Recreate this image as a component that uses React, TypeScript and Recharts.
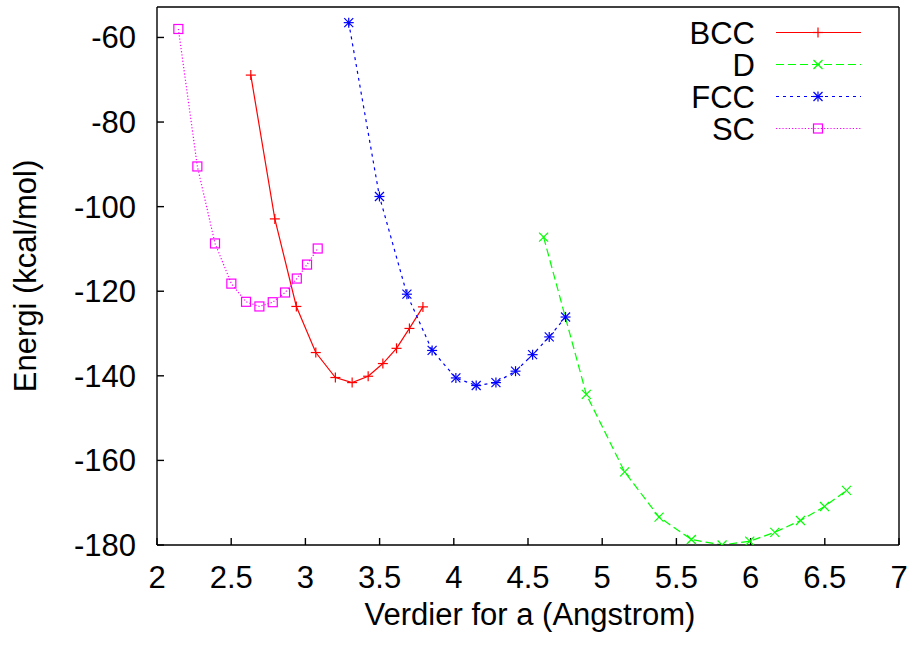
import { Line, LineChart, XAxis, YAxis } from 'recharts';

// lattice constant (Angstrom) and energy (kcal/mol) per structure
const bccA = [2.632, 2.794, 2.939, 3.07, 3.202, 3.315, 3.423, 3.522, 3.614, 3.701, 3.792];
const bccE = [-68.9, -102.9, -123.6, -134.5, -140.4, -141.6, -140.1, -137.1, -133.5, -128.8, -123.7];

const dA = [4.605, 4.893, 5.151, 5.383, 5.601, 5.808, 5.994, 6.163, 6.336, 6.498, 6.646];
const dE = [-107.2, -144.4, -162.7, -173.4, -178.7, -180.0, -179.1, -177.0, -174.2, -170.9, -167.1];

const fccA = [3.292, 3.499, 3.684, 3.854, 4.014, 4.151, 4.284, 4.416, 4.531, 4.643, 4.753];
const fccE = [-56.5, -97.6, -120.7, -134.0, -140.5, -142.3, -141.6, -138.9, -135.0, -130.8, -126.1];

const scA = [2.144, 2.272, 2.391, 2.501, 2.6, 2.69, 2.78, 2.863, 2.942, 3.011, 3.083];
const scE = [-58.0, -90.5, -108.7, -118.2, -122.5, -123.6, -122.6, -120.3, -117.0, -113.7, -109.9];

const xTicks = [2, 2.5, 3, 3.5, 4, 4.5, 5, 5.5, 6, 6.5, 7];
const yTicks = [-180, -160, -140, -120, -100, -80, -60];

const FONT = '"Liberation Sans", Arial, Helvetica, sans-serif';
const FS = 31;

const toPoints = (xs: number[], ys: number[]) => xs.map((x, i) => ({ x, y: ys[i] }));

const series = [
    { name: 'BCC', data: toPoints(bccA, bccE), color: '#ff0000', dash: undefined, shape: 'plus' },
    { name: 'D', data: toPoints(dA, dE), color: '#00ff00', dash: '8 4', shape: 'cross' },
    { name: 'FCC', data: toPoints(fccA, fccE), color: '#0000ff', dash: '3 4', shape: 'star' },
    { name: 'SC', data: toPoints(scA, scE), color: '#ff00ff', dash: '1.2 2', shape: 'square' },
];

const Marker = ({ shape, x, y, color }: { shape: string; x: number; y: number; color: string }) => {
    const s = 5;
    const c = 4.5;
    const w = 1.2;
    if (shape === 'plus') {
        return (
            <g stroke={color} strokeWidth={w}>
                <line x1={x - s} y1={y} x2={x + s} y2={y} />
                <line x1={x} y1={y - s} x2={x} y2={y + s} />
            </g>
        );
    }
    if (shape === 'cross') {
        return (
            <g stroke={color} strokeWidth={w}>
                <line x1={x - c} y1={y - c} x2={x + c} y2={y + c} />
                <line x1={x - c} y1={y + c} x2={x + c} y2={y - c} />
            </g>
        );
    }
    if (shape === 'star') {
        return (
            <g stroke={color} strokeWidth={w}>
                <line x1={x - s} y1={y} x2={x + s} y2={y} />
                <line x1={x} y1={y - s} x2={x} y2={y + s} />
                <line x1={x - c} y1={y - c} x2={x + c} y2={y + c} />
                <line x1={x - c} y1={y + c} x2={x + c} y2={y - c} />
            </g>
        );
    }
    return <rect x={x - 4.5} y={y - 4.5} width={9} height={9} fill="none" stroke={color} strokeWidth={w} />;
};

const renderDot = (shape: string, color: string) => (props: any) => {
    const { cx, cy, index } = props;
    if (cx == null || cy == null) return <g key={`${shape}-${index}`} />;
    return <Marker key={`${shape}-${index}`} shape={shape} x={cx} y={cy} color={color} />;
};

const LegendBox = () => (
    <svg width={915} height={160} style={{ position: 'absolute', left: 0, top: 0, pointerEvents: 'none' }}>
        {series.map((s, i) => {
            const y = 32.5 + i * 32;
            return (
                <g key={s.name}>
                    <text x={755} y={y + 11} textAnchor="end" fontFamily={FONT} fontSize={FS} fill="#000">
                        {s.name}
                    </text>
                    <line x1={776} y1={y} x2={861} y2={y} stroke={s.color} strokeWidth={1.2} strokeDasharray={s.dash} />
                    <Marker shape={s.shape} x={818} y={y} color={s.color} />
                </g>
            );
        })}
    </svg>
);

const axisStroke = { stroke: '#000', strokeWidth: 1.4 };
const tickStyle = { fontFamily: FONT, fontSize: FS, fill: '#000' };

export default function App() {
    return (
        <div style={{ position: 'absolute', left: 0, top: 0, width: 915, height: 647, background: '#fff' }}>
            <LineChart width={915} height={647} margin={{ top: 6, right: 15, bottom: 0, left: 0 }}>
                <XAxis
                    xAxisId={0}
                    type="number"
                    dataKey="x"
                    domain={[2, 7]}
                    ticks={xTicks}
                    interval={0}
                    allowDataOverflow
                    height={102}
                    tickSize={-7}
                    tickMargin={28}
                    tick={tickStyle}
                    axisLine={axisStroke}
                    tickLine={axisStroke}
                    label={{
                        content: ({ viewBox }: any) => (
                            <text
                                x={viewBox.x + viewBox.width / 2 + 2}
                                y={viewBox.y + 80}
                                textAnchor="middle"
                                fontFamily={FONT}
                                fontSize={FS}
                                fill="#000"
                            >
                                Verdier for a (Angstrom)
                            </text>
                        ),
                    }}
                />
                <XAxis
                    xAxisId="top"
                    orientation="top"
                    type="number"
                    domain={[2, 7]}
                    ticks={xTicks}
                    interval={0}
                    allowDataOverflow
                    height={1}
                    tickSize={-7}
                    tick={false}
                    axisLine={axisStroke}
                    tickLine={axisStroke}
                />
                <YAxis
                    yAxisId={0}
                    type="number"
                    domain={[-180, -52.8]}
                    ticks={yTicks}
                    interval={0}
                    allowDataOverflow
                    width={157}
                    tickSize={-7}
                    tickMargin={28}
                    tick={tickStyle}
                    axisLine={axisStroke}
                    tickLine={axisStroke}
                    label={{
                        content: ({ viewBox }: any) => {
                            const cx = viewBox.x + 36;
                            const cy = viewBox.y + viewBox.height / 2;
                            return (
                                <text
                                    x={cx}
                                    y={cy}
                                    transform={`rotate(-90 ${cx} ${cy})`}
                                    textAnchor="middle"
                                    fontFamily={FONT}
                                    fontSize={FS}
                                    fill="#000"
                                >
                                    Energi (kcal/mol)
                                </text>
                            );
                        },
                    }}
                />
                <YAxis
                    yAxisId="right"
                    orientation="right"
                    type="number"
                    domain={[-180, -52.8]}
                    ticks={yTicks}
                    interval={0}
                    allowDataOverflow
                    width={1}
                    tickSize={-7}
                    tick={false}
                    axisLine={axisStroke}
                    tickLine={axisStroke}
                />
                {series.map((s) => (
                    <Line
                        key={s.name}
                        name={s.name}
                        data={s.data}
                        dataKey="y"
                        xAxisId={0}
                        yAxisId={0}
                        type="linear"
                        stroke={s.color}
                        strokeWidth={1.2}
                        strokeDasharray={s.dash}
                        dot={renderDot(s.shape, s.color)}
                        activeDot={false}
                        isAnimationActive={false}
                    />
                ))}
            </LineChart>
            <LegendBox />
        </div>
    );
}
